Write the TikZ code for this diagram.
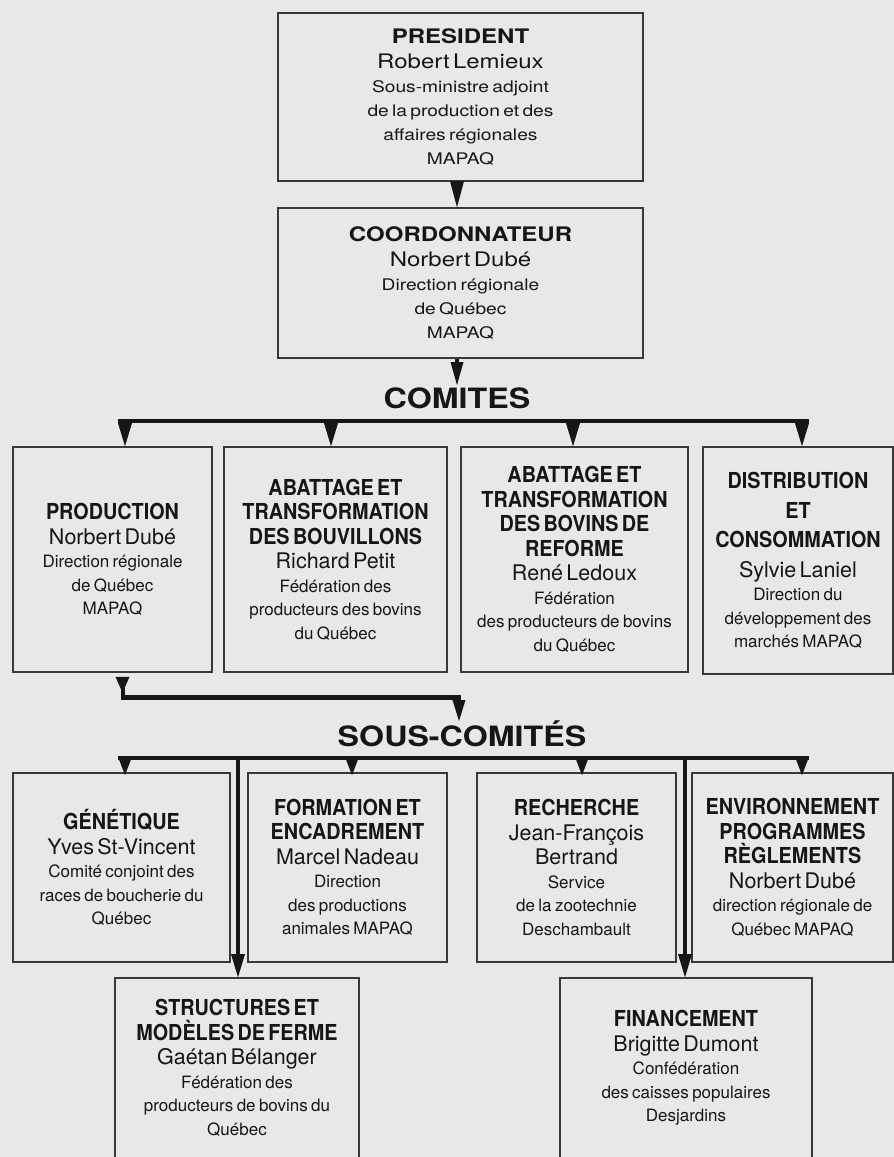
\documentclass[tikz,border=0pt]{standalone}
\usepackage{fontspec}
\usetikzlibrary{arrows.meta,calc}
\newfontfamily\topf[FakeStretch=1.2]{TeX Gyre Heros}
\newfontfamily\lowf{TeX Gyre Heros}
\newfontfamily\lowbf[FakeStretch=0.9]{TeX Gyre Heros}
\newfontfamily\headf[FakeStretch=1.15]{TeX Gyre Heros}
\definecolor{bg}{RGB}{232,232,230}
\definecolor{ink}{RGB}{22,22,22}
\newcommand\TopTitle{\topf\bfseries\fontsize{20}{25}\selectfont}
\newcommand\TopName{\topf\mdseries\fontsize{20}{25}\selectfont}
\newcommand\TopSmall{\topf\mdseries\fontsize{16}{24}\selectfont}
\newcommand\LowTitle{\lowbf\bfseries\fontsize{22}{24.5}\selectfont}
\newcommand\LowName{\lowf\mdseries\fontsize{21.5}{24.5}\selectfont}
\newcommand\LowSmall{\lowf\mdseries\fontsize{17}{23.5}\selectfont}
\newcommand\WideTitle{\lowbf\bfseries\fontsize{22}{29.5}\selectfont}
\newcommand\WideName{\lowf\mdseries\fontsize{21.5}{29.5}\selectfont}
\newcommand\HeadFont{\headf\bfseries\fontsize{28}{30}\selectfont}
\begin{document}
\begin{tikzpicture}[x=1pt,y=-1pt,
  box/.style={draw=ink!85, line width=1.6pt, fill=bg, inner sep=0pt, align=center, text=ink},
  heading/.style={inner sep=0pt, anchor=base, text=ink, font=\HeadFont},
  busline/.style={draw=ink, line width=4.5pt, line join=miter},
  arrowdrop/.style={draw=ink, line width=4.5pt, -{Triangle[length=#1,width=14pt,line width=0pt]}},
  smalldrop/.style={draw=ink, line width=4.5pt, -{Triangle[length=#1,width=13pt,line width=0pt]}}
]
\path[use as bounding box] (0,0) rectangle (894,1157);
\clip (0,0) rectangle (894,1157);
\fill[bg] (0,0) rectangle (894,1157);

% top boxes
\node[box, minimum width=365pt, minimum height=168pt, text width=355pt] (pres) at (460.5,97)
 {\TopTitle PRESIDENT\par\TopName Robert Lemieux\par\TopSmall Sous-ministre adjoint\par de la production et des\par affaires régionales\par MAPAQ\par};
\node[box, minimum width=365pt, minimum height=150pt, text width=355pt] (coord) at (460.5,283)
 {\TopTitle COORDONNATEUR\par\TopName Norbert Dubé\par\TopSmall Direction régionale\par de Québec\par MAPAQ\par};

\node[heading] (comlbl) at (457,408) {COMITES};
\node[heading] (souslbl) at (462,746) {SOUS-COMITÉS};

% comites
\node[box, minimum width=199pt, minimum height=225pt, text width=195pt] (prod) at (112.5,559.5)
 {\LowTitle PRODUCTION\par\LowName Norbert Dubé\par\LowSmall Direction régionale\par de Québec\par MAPAQ\par};
\node[box, minimum width=223pt, minimum height=225pt, text width=219pt] (abo) at (335.5,559.5)
 {\LowTitle ABATTAGE ET\par TRANSFORMATION\par DES BOUVILLONS\par\LowName Richard Petit\par\LowSmall Fédération des\par producteurs des bovins\par du Québec\par};
\node[box, minimum width=227pt, minimum height=225pt, text width=223pt] (abr) at (574.5,559.5)
 {\LowTitle ABATTAGE ET\par TRANSFORMATION\par DES BOVINS DE\par REFORME\par\LowName René Ledoux\par\LowSmall Fédération\par des producteurs de bovins\par du Québec\par};
\node[box, minimum width=190pt, minimum height=227pt, text width=188pt] (dist) at (798,560.5)
 {\WideTitle DISTRIBUTION\par ET\par CONSOMMATION\par\WideName Sylvie Laniel\par\LowSmall Direction du\par développement des\par marchés MAPAQ\par};

% sous-comites
\node[box, minimum width=217pt, minimum height=189pt, text width=213pt] (gen) at (121.5,867.5)
 {\LowTitle GÉNÉTIQUE\par\LowName Yves St-Vincent\par\LowSmall Comité conjoint des\par races de boucherie du\par Québec\par};
\node[box, minimum width=199pt, minimum height=189pt, text width=195pt] (form) at (347.5,867.5)
 {\LowTitle FORMATION ET\par ENCADREMENT\par\LowName Marcel Nadeau\par\LowSmall Direction\par des productions\par animales MAPAQ\par};
\node[box, minimum width=199pt, minimum height=189pt, text width=195pt] (rech) at (576.5,867.5)
 {\LowTitle RECHERCHE\par\LowName Jean-François\par Bertrand\par\LowSmall Service\par de la zootechnie\par Deschambault\par};
\node[box, minimum width=201pt, minimum height=189pt, text width=199pt] (env) at (792.5,867.5)
 {\LowTitle ENVIRONNEMENT\par PROGRAMMES\par RÈGLEMENTS\par\LowName Norbert Dubé\par\LowSmall direction régionale de\par Québec MAPAQ\par};
\node[box, minimum width=244pt, minimum height=180pt, text width=240pt] (struct) at (237,1068)
 {\LowTitle STRUCTURES ET\par MODÈLES DE FERME\par\LowName Gaétan Bélanger\par\LowSmall Fédération des\par producteurs de bovins du\par Québec\par};
\node[box, minimum width=252pt, minimum height=180pt, text width=248pt] (fin) at (686,1068)
 {\LowTitle FINANCEMENT\par\LowName Brigitte Dumont\par\LowSmall Confédération\par des caisses populaires\par Desjardins\par};

% top connectors
\draw[arrowdrop=26pt] ($(pres.south)+(-3.5,0)$) -- ($(coord.north)+(-3.5,0)$);
\draw[smalldrop=23pt] (comlbl.north |- coord.south) -- ($(comlbl.north)+(0,-2)$);

% comites bus
\coordinate (cbL) at (118,421);
\coordinate (cbR) at (809,421);
\draw[busline] (cbL) -- (cbR);
\coordinate (d1) at (125,421);
\coordinate (d2) at (331,421);
\coordinate (d3) at (573,421);
\coordinate (d4) at (802,421);
\draw[arrowdrop=23pt] (d1) -- (d1 |- prod.north);
\draw[arrowdrop=23pt] (d2) -- (d2 |- abo.north);
\draw[arrowdrop=23pt] (d3) -- (d3 |- abr.north);
\draw[arrowdrop=23pt] (d4) -- (d4 |- dist.north);

% production -> sous-comites
\fill[ink] ($(prod.south)+(3,4)$) -- ($(prod.south)+(17,4)$) -- ($(prod.south)+(10,20)$) -- cycle;
\coordinate (k2) at (459,697.5);
\coordinate (k3) at (459,721);
\draw[busline, -{Triangle[length=21pt,width=13pt,line width=0pt]}] ($(prod.south)+(10.5,15)$) |- (k2) -- (k3);

% sous-comites bus
\coordinate (sbL) at (118,758);
\coordinate (sbR) at (809,758);
\draw[busline] (sbL) -- (sbR);
\coordinate (s1) at (125,758);
\coordinate (s2) at (352,758);
\coordinate (s3) at (582,758);
\coordinate (s4) at (802,758);
\draw[smalldrop=17pt, shorten >=-3pt] (s1) -- (s1 |- gen.north);
\draw[smalldrop=17pt, shorten >=-3pt] (s2) -- (s2 |- form.north);
\draw[smalldrop=17pt, shorten >=-3pt] (s3) -- (s3 |- rech.north);
\draw[smalldrop=17pt, shorten >=-3pt] (s4) -- (s4 |- env.north);
\coordinate (v1) at (238,758);
\coordinate (v2) at (685,758);
\draw[arrowdrop=23pt] (v1) -- (v1 |- struct.north);
\draw[arrowdrop=23pt] (v2) -- (v2 |- fin.north);
\end{tikzpicture}
\end{document}
